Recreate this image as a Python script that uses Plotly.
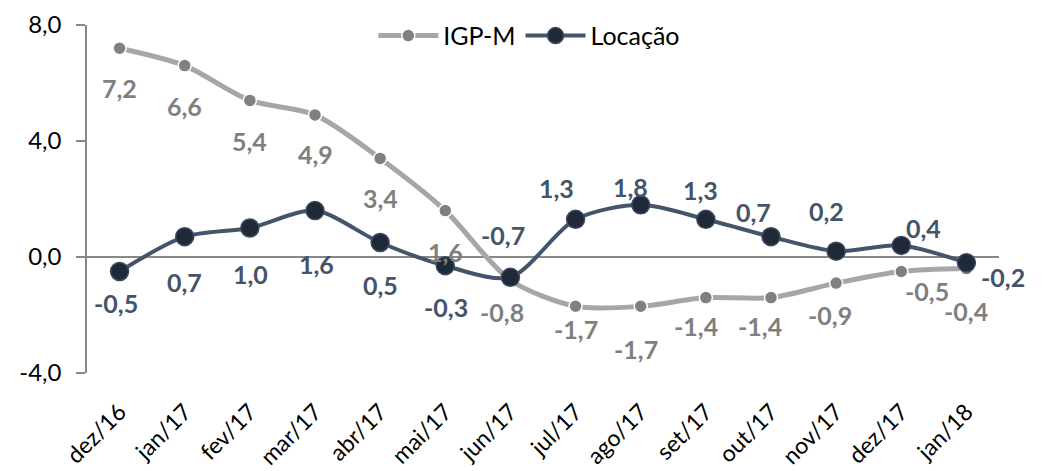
import plotly.graph_objects as go

# ---- data ----
months = ["dez/16", "jan/17", "fev/17", "mar/17", "abr/17", "mai/17", "jun/17",
          "jul/17", "ago/17", "set/17", "out/17", "nov/17", "dez/17", "jan/18"]
igpm = [7.2, 6.6, 5.4, 4.9, 3.4, 1.6, -0.8, -1.7, -1.7, -1.4, -1.4, -0.9, -0.5, -0.4]
locacao = [-0.5, 0.7, 1.0, 1.6, 0.5, -0.3, -0.7, 1.3, 1.8, 1.3, 0.7, 0.2, 0.4, -0.2]
y_ticks = [-4, 0, 4, 8]
y_ticktext = ["-4,0", "0,0", "4,0", "8,0"]

# ---- label placement (pixel offsets from each point: dx right, dy down) ----
igpm_dx = [0, 0, 0, 0, 0, 0, -8, 0, -5, -10, -11, -6, 26, 0]
igpm_dy = [40, 40, 41, 39, 40, 41, 32, 23, 43, 28, 28, 32, 19, 42]
loc_dx = [-4, 0, 1, 1, 0, 1, -7, -19, -10, -5, -18, -10, 22, 37]
loc_dy = [31, 45, 46, 53, 42, 41, -42, -31, -18, -29, -25, -40, -17, 14]

FONT = "Lato, 'Open Sans', sans-serif"
GRAY_LINE = "#a6a6a6"
GRAY_MARK = "#808080"
GRAY_TEXT = "#7f7f7f"
NAVY_LINE = "#44546a"
NAVY_MARK = "#1f2937"

def fmt(v):
    return f"{v:.1f}".replace(".", ",")

fig = go.Figure()
fig.add_trace(go.Scatter(
    x=months, y=igpm, name="IGP-M", mode="lines+markers",
    line=dict(color=GRAY_LINE, width=5, shape="spline", smoothing=0.8),
    marker=dict(size=13, color=GRAY_MARK, line=dict(color="white", width=1.5)),
))
fig.add_trace(go.Scatter(
    x=months, y=locacao, name="Locação", mode="lines+markers",
    line=dict(color=NAVY_LINE, width=4, shape="spline", smoothing=0.8),
    marker=dict(size=18, color=NAVY_MARK, line=dict(color="#3a4a60", width=1.5)),
))

annotations = []
for m, v, dx, dy in zip(months, igpm, igpm_dx, igpm_dy):
    annotations.append(dict(x=m, y=v, xref="x", yref="y", text=fmt(v), showarrow=False,
                            xshift=dx, yshift=-dy,
                            font=dict(family=FONT, size=25, color=GRAY_TEXT, weight="bold")))
for m, v, dx, dy in zip(months, locacao, loc_dx, loc_dy):
    annotations.append(dict(x=m, y=v, xref="x", yref="y", text=fmt(v), showarrow=False,
                            xshift=dx, yshift=-dy,
                            font=dict(family=FONT, size=25, color=NAVY_LINE, weight="bold")))

fig.update_layout(
    width=1042, height=471,
    margin=dict(l=87, r=43, t=25, b=98, autoexpand=False),
    paper_bgcolor="white", plot_bgcolor="white",
    font=dict(family=FONT, color="black"),
    showlegend=True,
    legend=dict(orientation="h", x=0.485, xanchor="center", y=1.035, yanchor="top",
                font=dict(family=FONT, size=25, color="black"),
                bgcolor="rgba(0,0,0,0)", itemwidth=60, tracegroupgap=0),
    annotations=annotations,
    xaxis=dict(range=[-0.5, len(months) - 0.5],
               showline=False, showgrid=False, zeroline=False, ticks="",
               automargin=False,
               tickangle=-45, tickfont=dict(family=FONT, size=23, color="black"),
               ticklabelstandoff=20),
    yaxis=dict(range=[-4, 8], tickvals=y_ticks, ticktext=y_ticktext,
               automargin=False,
               showgrid=False, showline=True, linecolor="#888888", linewidth=1.5,
               ticks="outside", ticklen=9, tickcolor="#888888", tickwidth=1.5,
               zeroline=True, zerolinecolor="#888888", zerolinewidth=2,
               tickfont=dict(family=FONT, size=24, color="black"),
               ticklabelstandoff=10),
)

fig.write_html("out.html", config={"displayModeBar": False},
               post_script="document.body.style.margin='0';document.body.style.overflow='hidden';")
